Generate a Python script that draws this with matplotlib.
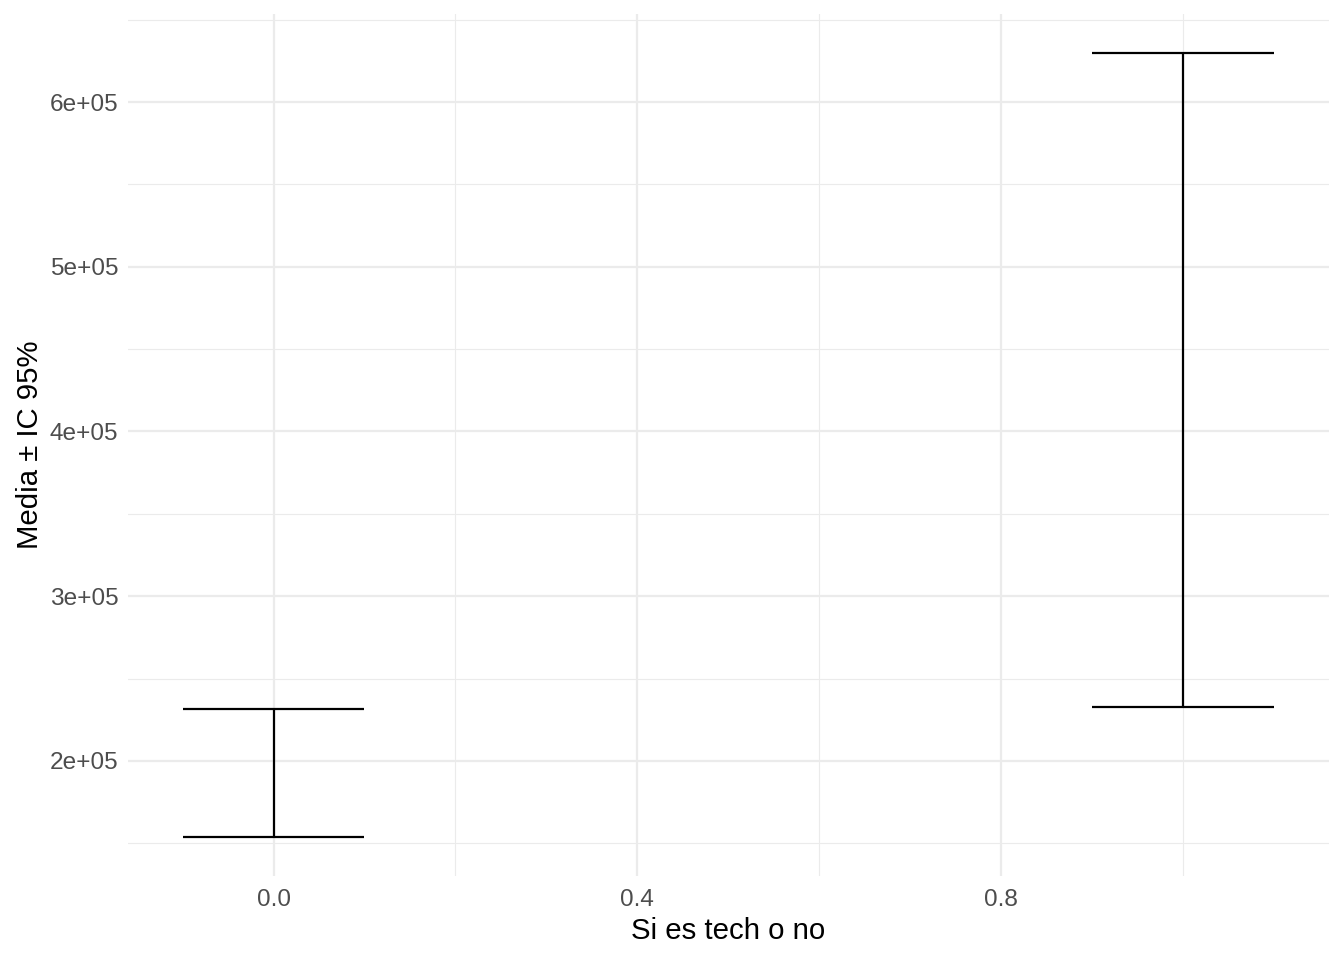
import numpy as np
import matplotlib
matplotlib.use("Agg")
import matplotlib.pyplot as plt
from matplotlib.ticker import FixedLocator

# Datos: intervalos de confianza del 95% por grupo (tech = 0 / 1)
tech = [0, 1]
ic_inferior = [153900, 232800]
ic_superior = [231600, 629700]

x_ticks = [0.0, 0.4, 0.8]
x_tick_labels = ["0.0", "0.4", "0.8"]
y_ticks = [200000, 300000, 400000, 500000, 600000]
y_tick_labels = ["2e+05", "3e+05", "4e+05", "5e+05", "6e+05"]

plt.rcParams['font.family'] = ['Liberation Sans', 'DejaVu Sans']

fig = plt.figure(figsize=(13.44, 9.6), dpi=100)
ax = fig.add_axes([128 / 1344, 1 - 876 / 960, (1328.6 - 128) / 1344, (876 - 14) / 960])

ancho = 0.1
x = np.array(tech, dtype=float)
ax.vlines(x, ic_inferior, ic_superior, color="black", linewidth=1.6, zorder=3)
ax.hlines(ic_inferior, x - ancho, x + ancho, color="black", linewidth=1.6, zorder=3)
ax.hlines(ic_superior, x - ancho, x + ancho, color="black", linewidth=1.6, zorder=3)

# Limites con la expansion del 5% al estilo ggplot
xmin, xmax = x.min() - ancho, x.max() + ancho
ymin, ymax = min(ic_inferior), max(ic_superior)
dx, dy = (xmax - xmin) * 0.05, (ymax - ymin) * 0.05
ax.set_xlim(xmin - dx, xmax + dx)
ax.set_ylim(ymin - dy, ymax + dy)

ax.set_xticks(x_ticks)
ax.set_xticklabels(x_tick_labels)
ax.set_yticks(y_ticks)
ax.set_yticklabels(y_tick_labels)
ax.xaxis.set_minor_locator(FixedLocator([0.2, 0.6, 1.0]))
ax.yaxis.set_minor_locator(FixedLocator([150000, 250000, 350000, 450000, 550000, 650000]))

ax.grid(which="major", color="#EBEBEB", linewidth=1.6, zorder=0)
ax.grid(which="minor", color="#EBEBEB", linewidth=0.8, zorder=0)
ax.set_axisbelow(True)
for s in ax.spines.values():
    s.set_visible(False)
ax.tick_params(which="both", length=0)
ax.tick_params(axis="x", pad=9, labelsize=17.6, labelcolor="#4D4D4D")
ax.tick_params(axis="y", pad=7, labelsize=17.6, labelcolor="#4D4D4D")

ax.set_xlabel("Si es tech o no", fontsize=21.2, labelpad=5)
ax.set_ylabel("Media ± IC 95%", fontsize=21.2, labelpad=4)

fig.savefig("out.png", dpi=100, facecolor="white")
